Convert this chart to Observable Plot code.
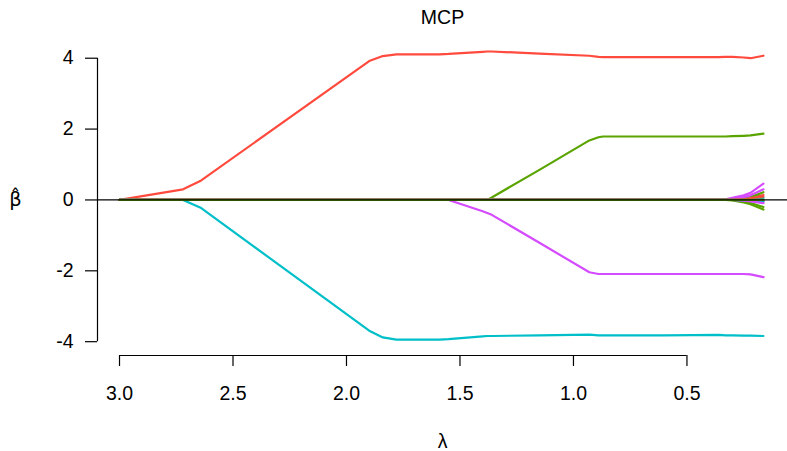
<!DOCTYPE html>
<html>
<head>
<meta charset="utf-8">
<script src="https://cdn.jsdelivr.net/npm/d3@7"></script>
<script src="https://cdn.jsdelivr.net/npm/@observablehq/plot@0.6"></script>
<style>
  body { margin: 0; background: #fff; }
  #chart svg { display: block; }
</style>
</head>
<body>
<div id="chart"></div>
<script>
// MCP coefficient path: one row of β̂ per variable along the λ grid
const lambda = [3.00, 2.72, 2.64, 1.90, 1.84, 1.78, 1.59, 1.55, 1.40, 1.38, 1.36, 1.15, 0.93, 0.89, 0.87, 0.60, 0.36, 0.33, 0.30, 0.25, 0.22, 0.163];

const beta1  = [0, 0.30, 0.55, 3.92, 4.06, 4.11, 4.11, 4.12, 4.18, 4.19, 4.19, 4.13, 4.07, 4.04, 4.03, 4.03, 4.03, 4.04, 4.04, 4.02, 4.00, 4.07];
const beta2  = [0, 0, 0, 0, 0, 0, 0, 0, 0, 0, 0.07, 0.85, 1.68, 1.77, 1.79, 1.79, 1.79, 1.79, 1.80, 1.81, 1.82, 1.87];
const beta3  = [0, 0, -0.23, -3.69, -3.88, -3.94, -3.94, -3.93, -3.85, -3.84, -3.84, -3.82, -3.80, -3.82, -3.82, -3.82, -3.81, -3.82, -3.82, -3.83, -3.83, -3.84];
const beta4  = [0, 0, 0, 0, 0, 0, 0, 0, -0.32, -0.37, -0.42, -1.21, -2.04, -2.09, -2.09, -2.09, -2.09, -2.09, -2.09, -2.09, -2.10, -2.18];
const beta5  = [0, 0, 0, 0, 0, 0, 0, 0, 0, 0, 0, 0, 0, 0, 0, 0, 0, 0, 0, 0.03, 0.06, 0.14];
const beta6  = [0, 0, 0, 0, 0, 0, 0, 0, 0, 0, 0, 0, 0, 0, 0, 0, 0, 0, 0, 0.04, 0.08, 0.22];
const beta7  = [0, 0, 0, 0, 0, 0, 0, 0, 0, 0, 0, 0, 0, 0, 0, 0, 0, 0.01, 0.02, 0.04, 0.05, 0.06];
const beta8  = [0, 0, 0, 0, 0, 0, 0, 0, 0, 0, 0, 0, 0, 0, 0, 0, 0, 0.02, 0.06, 0.13, 0.20, 0.46];
const beta9  = [0, 0, 0, 0, 0, 0, 0, 0, 0, 0, 0, 0, 0, 0, 0, 0, 0, 0, 0, -0.01, -0.02, -0.05];
const beta10 = [0, 0, 0, 0, 0, 0, 0, 0, 0, 0, 0, 0, 0, 0, 0, 0, 0, 0, 0, -0.05, -0.09, -0.20];
const beta11 = [0, 0, 0, 0, 0, 0, 0, 0, 0, 0, 0, 0, 0, 0, 0, 0, 0, 0, 0, 0.01, 0.01, 0.02];
const beta12 = [0, 0, 0, 0, 0, 0, 0, 0, 0, 0, 0, 0, 0, 0, 0, 0, 0, 0, 0.03, 0.08, 0.13, 0.30];
const beta13 = [0, 0, 0, 0, 0, 0, 0, 0, 0, 0, 0, 0, 0, 0, 0, 0, 0, 0, 0, 0.02, 0.05, 0.10];
const beta14 = [0, 0, 0, 0, 0, 0, 0, 0, 0, 0, 0, 0, 0, 0, 0, 0, 0, 0, -0.01, -0.07, -0.12, -0.27];
const beta15 = [0, 0, 0, 0, 0, 0, 0, 0, 0, 0, 0, 0, 0, 0, 0, 0, 0, 0, 0, -0.01, -0.02, -0.04];
const beta16 = [0, 0, 0, 0, 0, 0, 0, 0, 0, 0, 0, 0, 0, 0, 0, 0, 0, 0, 0, -0.02, -0.04, -0.09];
const beta17 = [0, 0, 0, 0, 0, 0, 0, 0, 0, 0, 0, 0, 0, 0, 0, 0, 0, 0, 0, 0, 0, 0];
const beta18 = [0, 0, 0, 0, 0, 0, 0, 0, 0, 0, 0, 0, 0, 0, 0, 0, 0, 0, 0, 0, 0, 0];

const betas = [beta1, beta2, beta3, beta4, beta5, beta6, beta7, beta8, beta9,
               beta10, beta11, beta12, beta13, beta14, beta15, beta16, beta17, beta18];

// hue cycle used for the variables (recycled)
const pathColors = ["#FF4A3D", "#5AA400", "#00BFC8", "#D54BFF"];

const xTicks = [3.0, 2.5, 2.0, 1.5, 1.0, 0.5];
const yTicks = [-4, -2, 0, 2, 4];

const xDomain = [3.097, 0.057];
const yDomain = [-4.39, 4.5];

// long table for the line mark
const rows = [];
betas.forEach((b, i) => {
  b.forEach((v, j) => rows.push({variable: i + 1, lambda: lambda[j], beta: v, color: pathColors[i % pathColors.length]}));
});

const font = "'Liberation Sans', Arial, Helvetica, sans-serif";
const fs = 19.5;

const chart = Plot.plot({
  width: 787,
  height: 451,
  marginLeft: 97,
  marginRight: 0,
  marginTop: 40,
  marginBottom: 96,
  style: {fontFamily: font, fontSize: fs + "px", color: "#000", background: "#fff"},
  x: {domain: xDomain, axis: null},
  y: {domain: yDomain, axis: null},
  color: {type: "identity"},
  marks: [
    Plot.line(rows, {x: "lambda", y: "beta", z: "variable", stroke: "color", strokeWidth: 2.2, strokeLinejoin: "round", strokeLinecap: "round"}),
    Plot.ruleY([0], {stroke: "#000", strokeWidth: 1.3}),
    // left axis
    Plot.ruleX([xDomain[0]], {y1: yTicks[0], y2: yTicks[yTicks.length - 1], stroke: "#000", strokeWidth: 1.2}),
    Plot.axisY({ticks: yTicks, tickSize: 12, tickPadding: 12, fontSize: fs, fontFamily: font, tickFormat: d => String(d), label: null, stroke: "#000", strokeWidth: 1.2, strokeOpacity: 1}),
    // bottom axis
    Plot.ruleY([yDomain[0]], {x1: xTicks[0], x2: xTicks[xTicks.length - 1], stroke: "#000", strokeWidth: 1.2}),
    Plot.axisX({ticks: xTicks, tickSize: 11, tickPadding: 20, fontSize: fs, fontFamily: font, tickFormat: d3.format(".1f"), label: null, stroke: "#000", strokeWidth: 1.2, strokeOpacity: 1}),
    // titles
    Plot.text(["MCP"], {frameAnchor: "top", dy: -23, fontSize: fs, fontFamily: font, textAnchor: "middle", lineAnchor: "middle"}),
    Plot.text(["λ"], {frameAnchor: "bottom", dy: 86, fontSize: fs, fontFamily: font, textAnchor: "middle", lineAnchor: "middle"}),
    Plot.text(["β̂"], {frameAnchor: "left", dx: -82, dy: 2, fontSize: fs, textAnchor: "middle", lineAnchor: "middle", fontFamily: "'DejaVu Sans', sans-serif"})
  ]
});

document.getElementById("chart").appendChild(chart);
</script>
</body>
</html>
